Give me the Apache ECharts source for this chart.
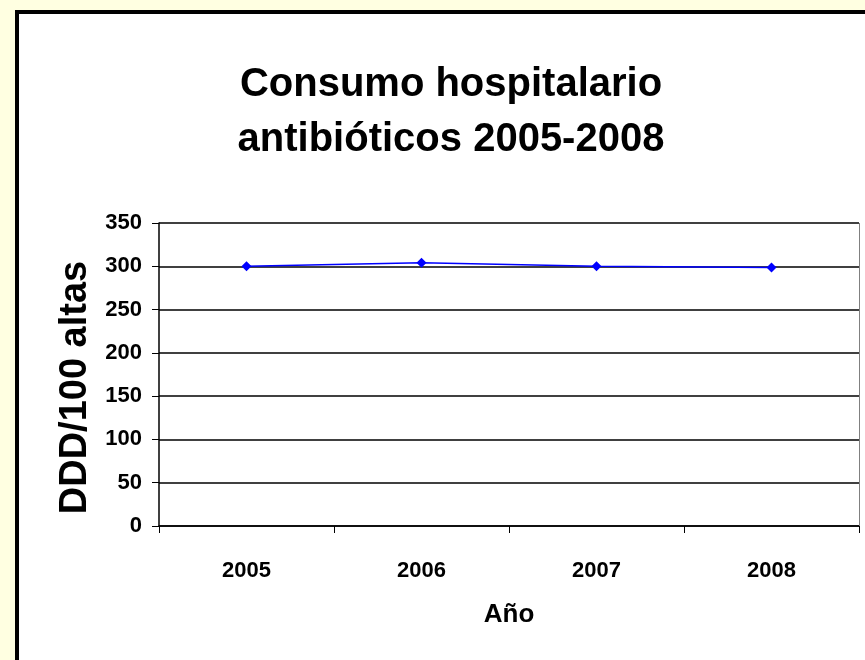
<!DOCTYPE html>
<html><head><meta charset="utf-8">
<script src="https://cdn.jsdelivr.net/npm/echarts@6/dist/echarts.min.js"></script>
<style>html,body{margin:0;padding:0;background:#FFFFE1;}#c{width:865px;height:660px;}</style>
</head><body><div id="c"></div>
<script>
const titleLines = ['Consumo hospitalario', 'antibióticos 2005-2008'];
const categories = ['2005', '2006', '2007', '2008'];
const values = [300, 304, 300, 298.5];
const yTicks = { min: 0, max: 350, interval: 50 };
const yName = 'DDD/100 altas';
const xName = 'Año';

const chart = echarts.init(document.getElementById('c'));
const F = 'Liberation Sans, Arial, sans-serif';
chart.setOption({
  backgroundColor: '#FFFFE1',
  animation: false,
  graphic: [{
    type: 'rect', z: -10, silent: true,
    shape: { x: 17, y: 12, width: 900, height: 700 },
    style: { fill: '#ffffff', stroke: '#000000', lineWidth: 4 }
  }, {
    type: 'line', z: 1, silent: true,
    shape: { x1: 859.5, y1: 223, x2: 859.5, y2: 526 },
    style: { stroke: '#808080', lineWidth: 1 }
  }],
  title: {
    text: titleLines.join('\n'),
    left: 446, top: 52, textAlign: 'center',
    textStyle: { fontFamily: F, fontWeight: 'bold', fontSize: 40, lineHeight: 55, color: '#000' }
  },
  grid: { left: 159, right: 6, top: 223, bottom: 134 },
  xAxis: {
    type: 'category', data: categories, boundaryGap: true,
    name: xName, nameLocation: 'middle', nameGap: 76,
    nameTextStyle: { fontFamily: F, fontWeight: 'bold', fontSize: 26, color: '#000' },
    axisLine: { lineStyle: { color: '#000', width: 1.5 } },
    axisTick: { show: true, length: 7, inside: false, lineStyle: { color: '#000' } },
    axisLabel: { margin: 34, fontFamily: F, fontWeight: 'bold', fontSize: 22, color: '#000' },
    splitLine: { show: false }
  },
  yAxis: {
    type: 'value', min: yTicks.min, max: yTicks.max, interval: yTicks.interval,
    name: yName, nameLocation: 'middle', nameGap: 51, nameRotate: 90,
    nameTextStyle: { fontFamily: F, fontWeight: 'bold', fontSize: 38, color: '#000', padding: [0, 26, 0, 0] },
    axisLine: { show: true, lineStyle: { color: '#000', width: 1.5 } },
    axisTick: { show: true, length: 7, lineStyle: { color: '#000' } },
    axisLabel: { margin: 17, fontFamily: F, fontWeight: 'bold', fontSize: 22, color: '#000' },
    splitLine: { show: true, lineStyle: { color: '#000', width: 1.5 } }
  },
  series: [{
    type: 'line', data: values,
    symbol: 'diamond', symbolSize: 10,
    lineStyle: { color: '#0000FF', width: 1.5 },
    itemStyle: { color: '#0000FF' }
  }]
});
</script></body></html>
